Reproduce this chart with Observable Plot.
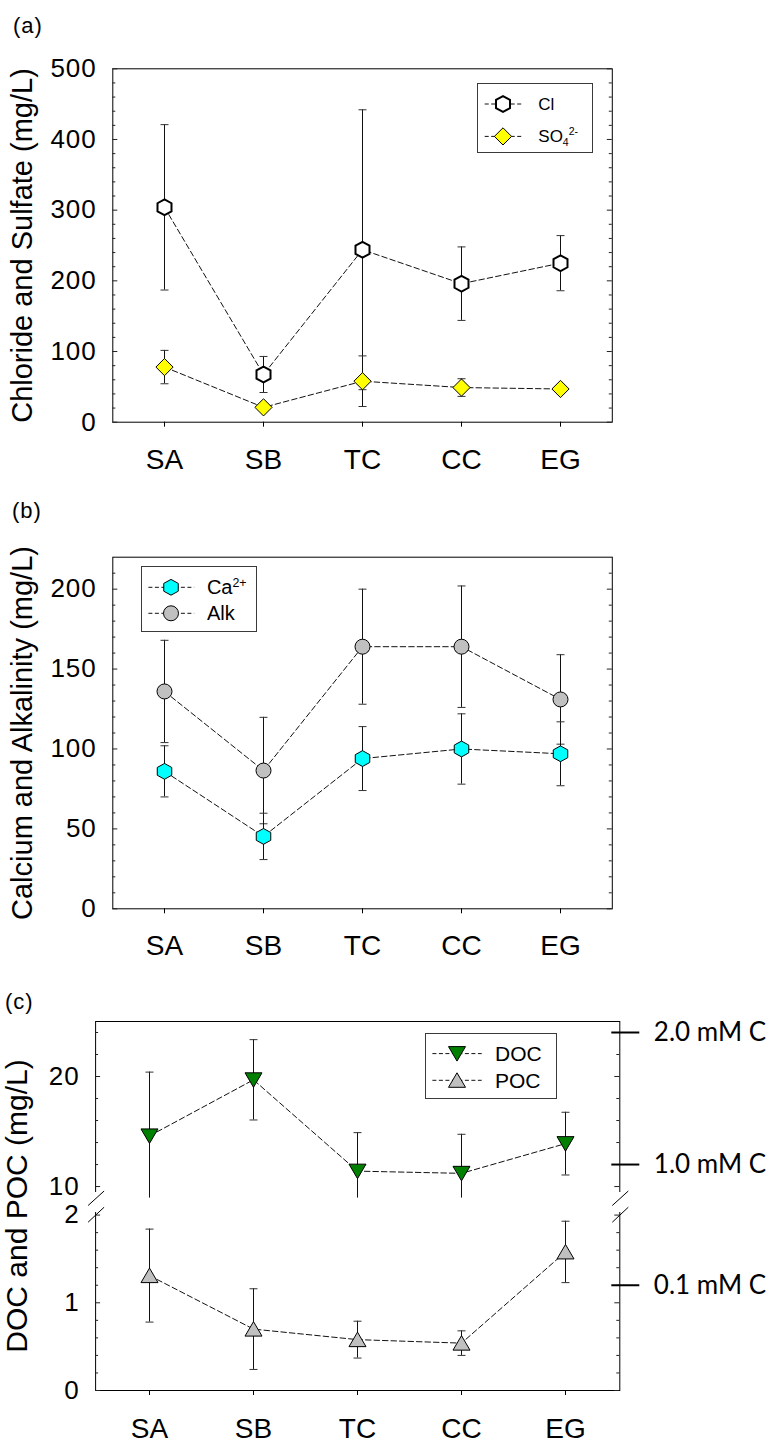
<!DOCTYPE html>
<html>
<head>
<meta charset="utf-8">
<script src="https://cdn.jsdelivr.net/npm/d3@7"></script>
<script src="https://cdn.jsdelivr.net/npm/@observablehq/plot@0.6"></script>
<style>
  body { margin: 0; background: #fff; }
  #wrap { position: relative; width: 773px; height: 1444px; overflow: hidden; background: #fff;
          font-family: "Liberation Sans", Arial, Helvetica, sans-serif; color: #000; }
  #wrap > svg { position: absolute; left: 0; }
  #wrap svg g[aria-label="y-axis tick label"] text { letter-spacing: 1px; }
  .plabel { position: absolute; font-size: 22px; letter-spacing: 1px; line-height: 1; transform: translateY(-50%); }
  .legend { position: absolute; border: 1.5px solid #3a3a3a; background: #fff; box-sizing: border-box; }
  .ltext { position: absolute; line-height: 1; transform: translateY(-50%); white-space: nowrap; }
  .ltext sup, .ltext sub { font-size: 0.62em; }
</style>
</head>
<body>
<div id="wrap"></div>
<script>
// ---------------- data ----------------
const sites = ["SA", "SB", "TC", "CC", "EG"];

// (a) chloride and sulfate, mg/L (mean and SD)
const clMean  = [304, 67.5, 244, 196, 225];
const clSd    = [117, 25.5, 198, 52, 39];
const so4Mean = [78, 21, 58, 49, 47];
const so4Sd   = [23.6, 4, 35.8, 12.5, 4];

// (b) calcium and alkalinity, mg/L
const caMean  = [86, 45.3, 94, 100, 97];
const caSd    = [16, 14.5, 20, 22, 20];
const alkMean = [136, 86.5, 164, 164, 131];
const alkSd   = [32, 33.3, 36, 38, 28];

// (c) DOC and POC, mg/L
const docMean = [14.6, 19.7, 11.4, 11.2, 13.9];
const docSd   = [5.8, 3.65, 3.5, 3.55, 2.85];
const pocMean = [1.31, 0.70, 0.58, 0.54, 1.58];
const pocSd   = [0.53, 0.46, 0.21, 0.14, 0.35];

// right-hand carbon scale of (c)
const carbonLabels = ["2.0 mM C", "1.0 mM C", "0.1 mM C"];
const carbonMgL    = [24, 12, 1.2];

// axis ticks
const ticksA = [0, 100, 200, 300, 400, 500];
const minorA = [20, 40, 60, 80, 120, 140, 160, 180, 220, 240, 260, 280, 320, 340, 360, 380, 420, 440, 460, 480];
const ticksB = [0, 50, 100, 150, 200];
const minorB = [10, 20, 30, 40, 60, 70, 80, 90, 110, 120, 130, 140, 160, 170, 180, 190, 210];
const ticksC = [0, 1, 2, 10, 20];
const minorC = [0.2, 0.4, 0.6, 0.8, 1.2, 1.4, 1.6, 1.8, 12, 14, 16, 18, 22, 24];

// ---------------- helpers ----------------
const FONT = '"Liberation Sans", Arial, Helvetica, sans-serif';
const wrap = document.getElementById("wrap");

function polySym(pts) {
  return { draw(ctx) { ctx.moveTo(pts[0][0], pts[0][1]); for (let i = 1; i < pts.length; i++) ctx.lineTo(pts[i][0], pts[i][1]); ctx.closePath(); } };
}
function hexSym(w, h, s) {
  return polySym([[0, -h/2], [w/2, -h/2 + s], [w/2, h/2 - s], [0, h/2], [-w/2, h/2 - s], [-w/2, -h/2 + s]]);
}
const symCl  = hexSym(14, 15.8, 3.8);
const symCa  = hexSym(14.5, 15.8, 4);
const symSO4 = polySym([[0, -8.6], [8.6, 0], [0, 8.6], [-8.6, 0]]);
const symAlk = { draw(ctx) { ctx.moveTo(7.5, 0); ctx.arc(0, 0, 7.5, 0, 2 * Math.PI); ctx.closePath(); } };
const symDOC = polySym([[-8.5, -7], [8.5, -7], [0, 7.5]]);
const symPOC = polySym([[-8.5, 7], [8.5, 7], [0, -7.5]]);
const symCap = { draw(ctx) { ctx.moveTo(-4, 0); ctx.lineTo(4, 0); } };
const symBreakMask = polySym([[-3.5, -14.5], [3.5, -14.5], [3.5, 5.5], [-3.5, 5.5]]);
const symBreak = { draw(ctx) { ctx.moveTo(-7.5, -1); ctx.lineTo(8.5, -15.5); ctx.moveTo(-7.5, 15.7); ctx.lineTo(8.5, 0.7); } };

function rows(mean, sd, floor = -Infinity) {
  return sites.map((site, i) => ({
    site, mean: mean[i],
    lo: Math.max(mean[i] - sd[i], floor), hi: mean[i] + sd[i],
    clipped: mean[i] - sd[i] < floor
  }));
}
function caps(r) {
  return r.flatMap(d => d.clipped ? [{site: d.site, v: d.hi}] : [{site: d.site, v: d.hi}, {site: d.site, v: d.lo}]);
}
function errorMarks(r) {
  return [
    Plot.ruleX(r, {x: "site", y1: "lo", y2: "hi", stroke: "#111", strokeWidth: 1}),
    Plot.dot(caps(r), {x: "site", y: "v", symbol: symCap, fill: "none", stroke: "#333", strokeWidth: 1})
  ];
}
function seriesMarks(r, sym, fill, sw) {
  return [
    Plot.line(r, {x: "site", y: "mean", stroke: "#111", strokeWidth: 1, strokeDasharray: "5.5,3"}),
    Plot.dot(r, {x: "site", y: "mean", symbol: sym, fill, stroke: "#000", strokeWidth: sw})
  ];
}
function yTickMarks(major, minor, fw) {
  return [
    Plot.tickY(major, {y: d => d, insetRight: fw - 5, stroke: "#222"}),
    Plot.tickY(major, {y: d => d, insetLeft: fw - 5, stroke: "#222"}),
    Plot.tickY(minor, {y: d => d, insetRight: fw - 3, stroke: "#222"}),
    Plot.tickY(minor, {y: d => d, insetLeft: fw - 3, stroke: "#222"})
  ];
}
function yTitle(text, dx, fs) {
  return Plot.text([text], {text: d => d, frameAnchor: "left", textAnchor: "middle", lineAnchor: "middle", rotate: -90, dx, fontSize: fs, fill: "#000"});
}
const svgStyle = {fontFamily: FONT, fontSize: "26px", color: "#000", background: "transparent", overflow: "visible"};

function place(svg, top) { svg.style.top = top + "px"; wrap.appendChild(svg); }

// ---------------- panel (a) ----------------
{
  const ml = 112.3, mr = 773 - 611.8, fw = 611.8 - 112.3;
  const cl = rows(clMean, clSd), so4 = rows(so4Mean, so4Sd);
  const svg = Plot.plot({
    width: 773, height: 480,
    marginTop: 68.3, marginBottom: 58.3, marginLeft: ml, marginRight: mr,
    x: {type: "point", domain: sites, padding: 0.5, label: null},
    y: {domain: [0, 500], label: null},
    style: svgStyle,
    marks: [
      Plot.frame({stroke: "#000"}),
      ...yTickMarks(ticksA, minorA, fw),
      Plot.axisX({tickSize: 5, tickPadding: 21.6, fontSize: 28, label: null}),
      Plot.axisY({ticks: ticksA, tickSize: 0, tickPadding: 16, fontSize: 26, label: null}),
      yTitle("Chloride and Sulfate (mg/L)", -89.6, 29),
      ...errorMarks(cl), ...errorMarks(so4),
      ...seriesMarks(cl, symCl, "#fff", 2),
      ...seriesMarks(so4, symSO4, "#ffff00", 1)
    ]
  });
  place(svg, 0);
}

// ---------------- panel (b) ----------------
{
  const ml = 112.3, mr = 773 - 611.8, fw = 611.8 - 112.3;
  const ca = rows(caMean, caSd), alk = rows(alkMean, alkSd);
  const svg = Plot.plot({
    width: 773, height: 480,
    marginTop: 76.7, marginBottom: 51.7, marginLeft: ml, marginRight: mr,
    x: {type: "point", domain: sites, padding: 0.5, label: null},
    y: {domain: [0, 220], label: null},
    style: svgStyle,
    marks: [
      Plot.frame({stroke: "#000"}),
      ...yTickMarks(ticksB, minorB, fw),
      Plot.axisX({tickSize: 5, tickPadding: 21.7, fontSize: 28, label: null}),
      Plot.axisY({ticks: ticksB, tickSize: 0, tickPadding: 16, fontSize: 26, label: null}),
      yTitle("Calcium and Alkalinity (mg/L)", -89.7, 29),
      ...errorMarks(alk), ...errorMarks(ca),
      ...seriesMarks(alk, symAlk, "#c0c0c0", 1),
      ...seriesMarks(ca, symCa, "#00ffff", 1)
    ]
  });
  place(svg, 480);
}

// ---------------- panel (c) (broken axis) ----------------
{
  const ml = 95.1, mr = 773 - 619.3, fw = 619.3 - 95.1;
  const upperFloor = 8.95;
  const doc = rows(docMean, docSd, upperFloor), poc = rows(pocMean, pocSd);
  const carbon = carbonLabels.map((label, i) => ({label, mgL: carbonMgL[i]}));
  const breakAt = [5];
  const svg = Plot.plot({
    width: 773, height: 484,
    marginTop: 61, marginBottom: 54, marginLeft: ml, marginRight: mr,
    x: {type: "point", domain: sites, padding: 0.5, label: null},
    y: {type: "linear", domain: [0, 2.05, upperFloor, 25], range: [430, 250.2, 237.6, 61], label: null},
    style: svgStyle,
    marks: [
      Plot.frame({stroke: "#000"}),
      ...yTickMarks(ticksC, minorC, fw),
      Plot.axisX({tickSize: 5, tickPadding: 23, fontSize: 28, label: null}),
      Plot.axisY({ticks: ticksC, tickSize: 0, tickPadding: 16, fontSize: 26, label: null}),
      yTitle("DOC and POC (mg/L)", -77.9, 30),
      // broken-axis marks on both sides
      Plot.dot(breakAt, {y: d => d, frameAnchor: "left", dy: 1.2, symbol: symBreakMask, fill: "#fff", stroke: "none"}),
      Plot.dot(breakAt, {y: d => d, frameAnchor: "right", dy: 1.2, symbol: symBreakMask, fill: "#fff", stroke: "none"}),
      Plot.dot(breakAt, {y: d => d, frameAnchor: "left", dy: 1.2, symbol: symBreak, fill: "none", stroke: "#000", strokeWidth: 1}),
      Plot.dot(breakAt, {y: d => d, frameAnchor: "right", dy: 1.2, symbol: symBreak, fill: "none", stroke: "#000", strokeWidth: 1}),
      // carbon scale on the right
      Plot.tickY(carbon, {y: "mgL", insetLeft: fw - 8, insetRight: -20, stroke: "#000", strokeWidth: 2}),
      Plot.text(carbon, {y: "mgL", text: "label", frameAnchor: "right", textAnchor: "start", dx: 34, fontSize: 26, fontFamily: "Lato, 'Open Sans', sans-serif", fill: "#000"}),
      ...errorMarks(doc), ...errorMarks(poc),
      ...seriesMarks(doc, symDOC, "#008000", 1),
      ...seriesMarks(poc, symPOC, "#c0c0c0", 1)
    ]
  });
  place(svg, 960);
}

// ---------------- panel letters ----------------
[["(a)", 13, 26], ["(b)", 12, 510.5], ["(c)", 5, 1001.5]].forEach(([t, x, y]) => {
  const d = document.createElement("div");
  d.className = "plabel"; d.textContent = t;
  d.style.left = x + "px"; d.style.top = y + "px";
  wrap.appendChild(d);
});

// ---------------- legends ----------------
function addLegend(box, items, fs) {
  const [x0, y0, x1, y1] = box;
  const b = document.createElement("div");
  b.className = "legend";
  Object.assign(b.style, {left: x0 + "px", top: y0 + "px", width: (x1 - x0) + "px", height: (y1 - y0) + "px"});
  wrap.appendChild(b);
  const svg = d3.create("svg")
    .attr("width", x1 - x0).attr("height", y1 - y0)
    .style("position", "absolute").style("left", x0 + "px").style("top", y0 + "px").style("overflow", "visible");
  for (const it of items) {
    const y = it.y - y0;
    svg.append("line").attr("x1", it.lx0 - x0).attr("x2", it.lx1 - x0).attr("y1", y).attr("y2", y)
      .attr("stroke", "#111").attr("stroke-width", 1).attr("stroke-dasharray", "4,2.5");
    const p = d3.path(); it.sym.draw(p, 0);
    svg.append("path").attr("d", p.toString()).attr("transform", `translate(${it.cx - x0},${y})`)
      .attr("fill", it.fill).attr("stroke", "#000").attr("stroke-width", it.sw);
    const t = document.createElement("div");
    t.className = "ltext"; t.innerHTML = it.html;
    t.style.left = it.tx + "px"; t.style.top = it.y + "px"; t.style.fontSize = fs + "px";
    wrap.appendChild(t);
  }
  wrap.appendChild(svg.node());
}

addLegend([477.3, 83.3, 593.3, 153.3], [
  {y: 104.3, lx0: 485, lx1: 523.3, cx: 503.3, sym: symCl, fill: "#fff", sw: 2, tx: 538.3, html: "Cl"},
  {y: 136.7, lx0: 485, lx1: 523.3, cx: 503.3, sym: symSO4, fill: "#ffff00", sw: 1, tx: 538.3, html: "SO<sub>4</sub><sup>2-</sup>"}
], 17);

addLegend([141.4, 566, 257.1, 631.7], [
  {y: 587.3, lx0: 148.8, lx1: 194.6, cx: 171.4, sym: symCa, fill: "#00ffff", sw: 1, tx: 206.9, html: "Ca<sup>2+</sup>"},
  {y: 613.3, lx0: 148.8, lx1: 194.6, cx: 171.4, sym: symAlk, fill: "#c0c0c0", sw: 1, tx: 206.9, html: "Alk"}
], 20);

addLegend([425.1, 1032.7, 557.3, 1099.3], [
  {y: 1053.3, lx0: 432.5, lx1: 481.8, cx: 457.1, sym: symDOC, fill: "#008000", sw: 1, tx: 495, html: "DOC"},
  {y: 1080, lx0: 432.5, lx1: 481.8, cx: 457.1, sym: symPOC, fill: "#c0c0c0", sw: 1, tx: 495, html: "POC"}
], 21);
</script>
</body>
</html>
